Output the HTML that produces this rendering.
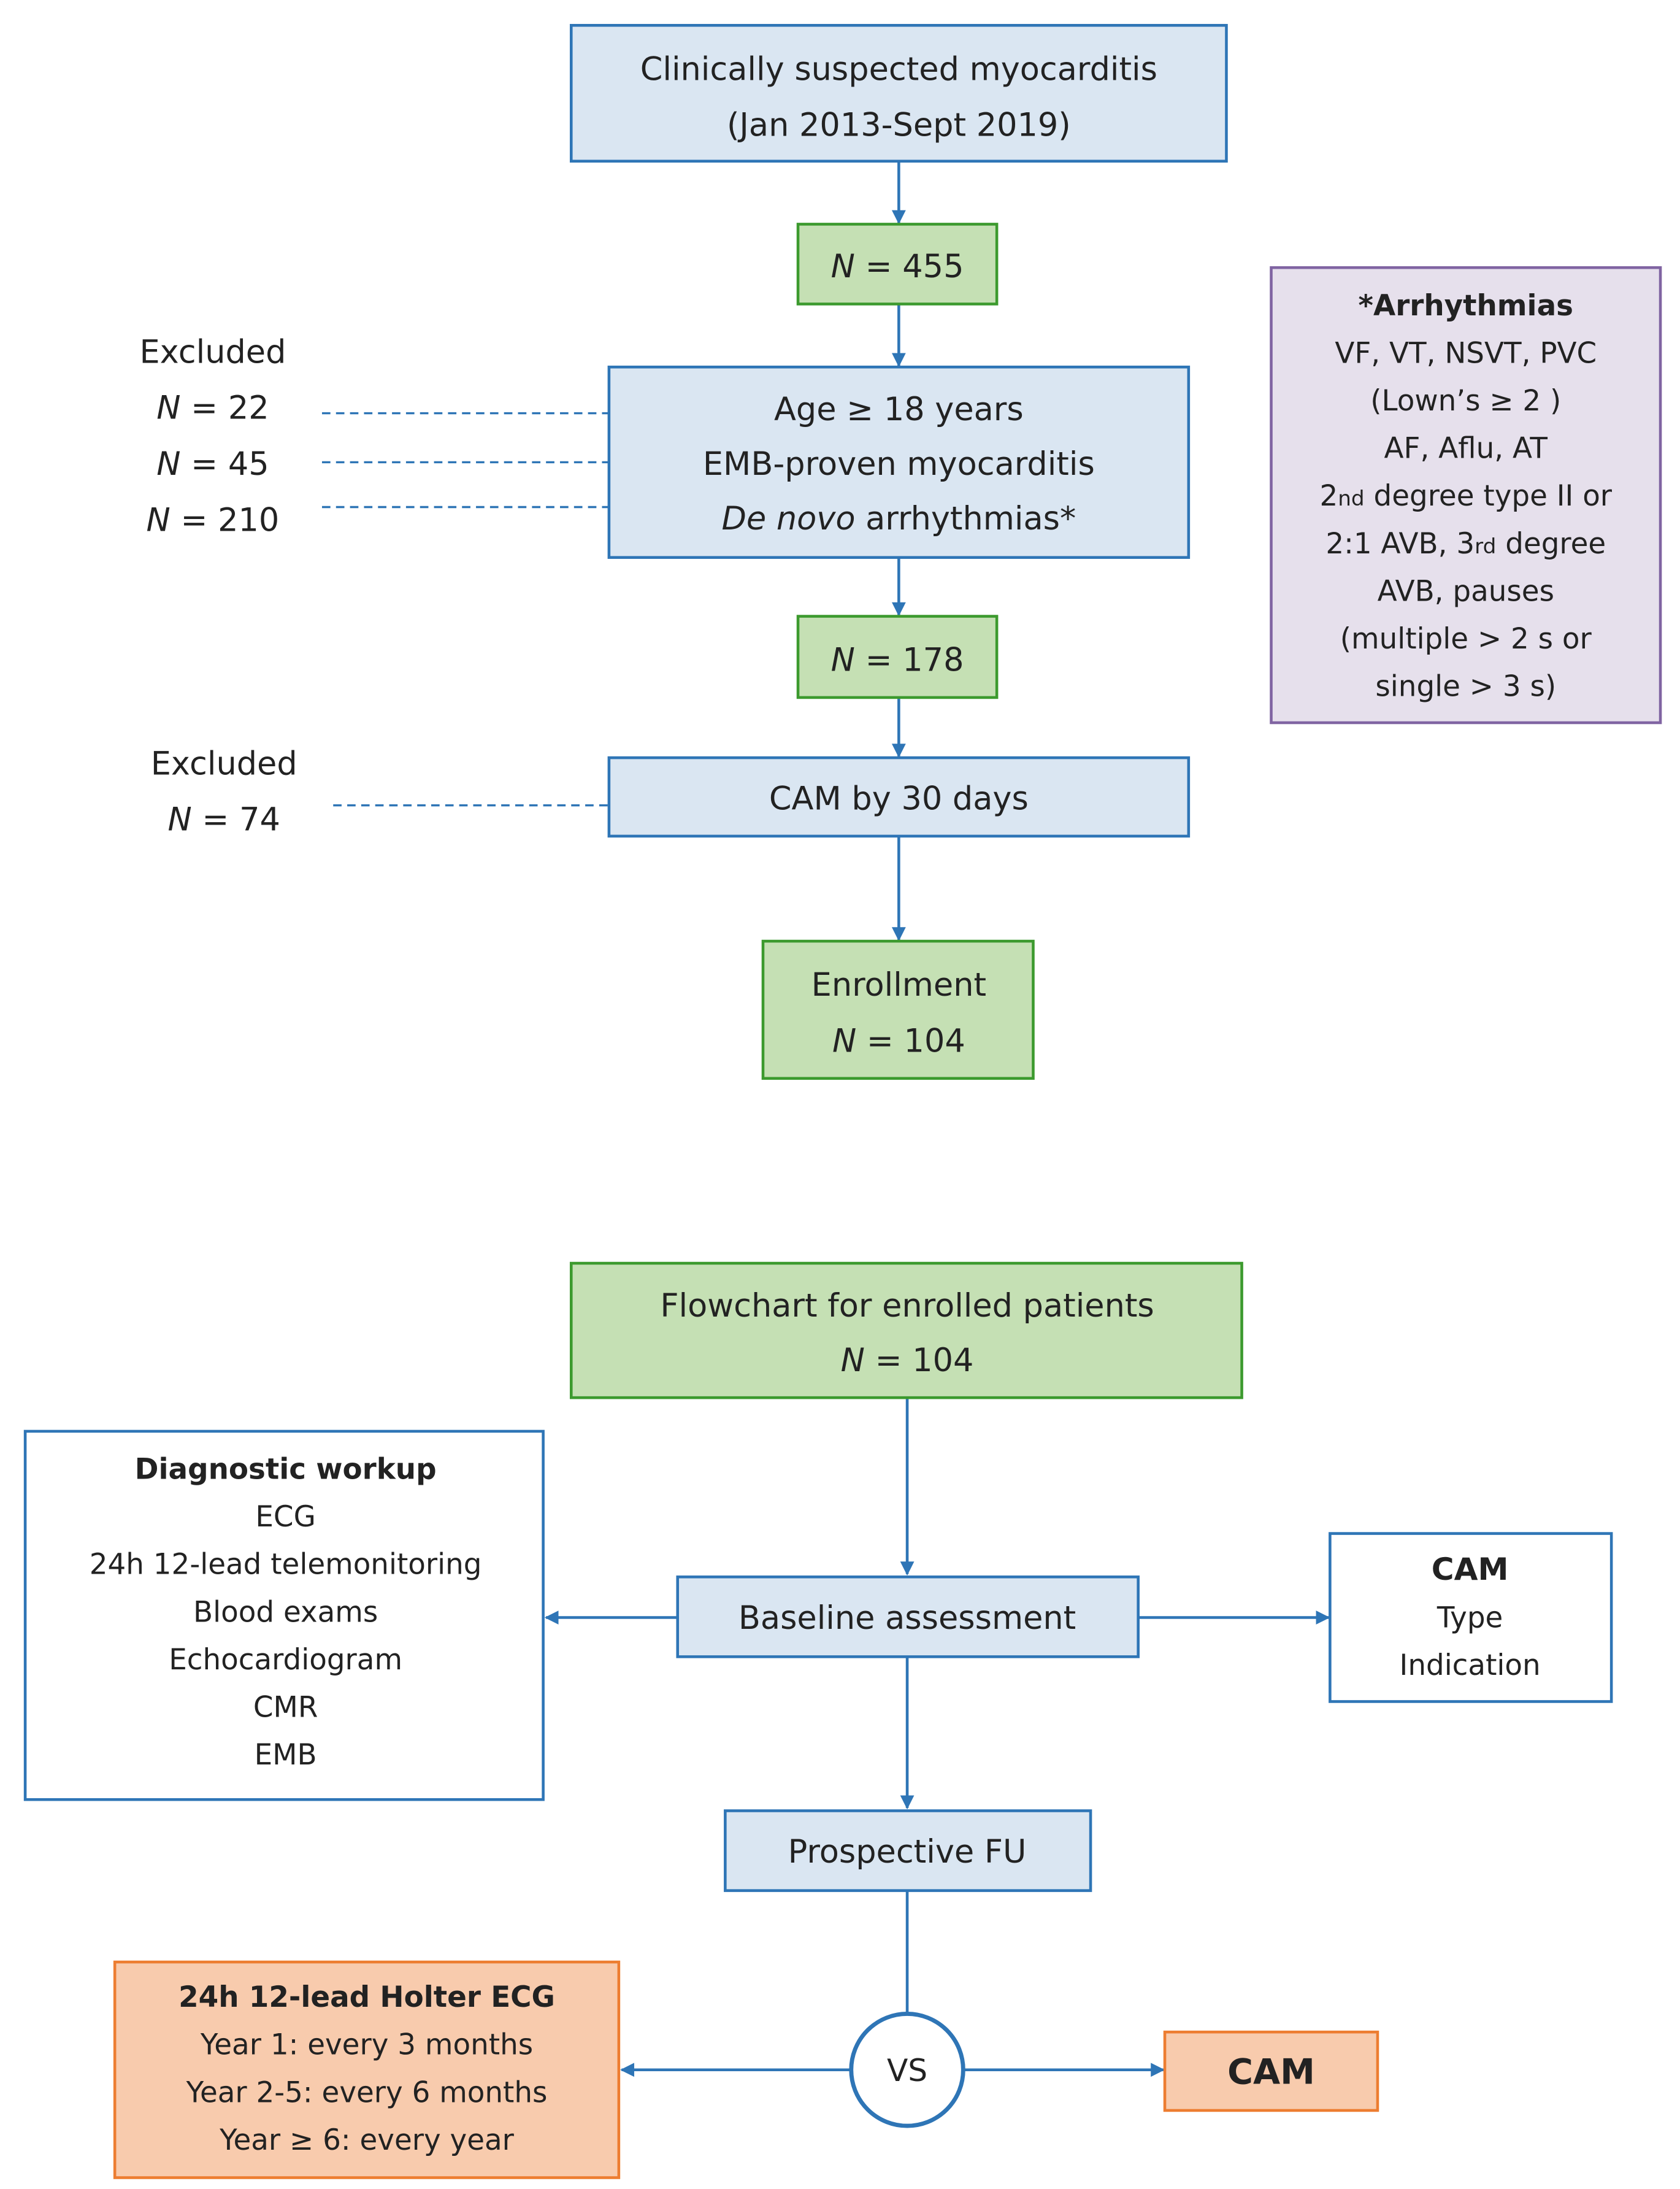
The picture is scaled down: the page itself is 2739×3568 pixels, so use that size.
<!DOCTYPE html>
<html><head><meta charset="utf-8"><style>
html,body{margin:0;padding:0;background:#fff;}
svg{display:block;}
text{font-family:"DejaVu Sans","Liberation Sans",sans-serif;fill:#222;}
</style></head><body>
<svg width="2739" height="3568" viewBox="0 0 1200 1563" xmlns="http://www.w3.org/2000/svg">
<defs>
<marker id="a" markerWidth="10" markerHeight="10" refX="9" refY="5" orient="auto" markerUnits="userSpaceOnUse">
<path d="M0,0 L10,5 L0,10 z" fill="#2E75B6"/></marker>
</defs>
<g stroke="#2E75B6" stroke-width="2" fill="none">
<line x1="642" y1="115" x2="642" y2="159" marker-end="url(#a)"/>
<line x1="642" y1="217" x2="642" y2="261" marker-end="url(#a)"/>
<line x1="642" y1="398" x2="642" y2="439" marker-end="url(#a)"/>
<line x1="642" y1="498" x2="642" y2="540" marker-end="url(#a)"/>
<line x1="642" y1="597" x2="642" y2="671" marker-end="url(#a)"/>
<line x1="648" y1="998" x2="648" y2="1124" marker-end="url(#a)"/>
<line x1="484" y1="1155" x2="390" y2="1155" marker-end="url(#a)"/>
<line x1="813" y1="1155" x2="949" y2="1155" marker-end="url(#a)"/>
<line x1="648" y1="1183" x2="648" y2="1291" marker-end="url(#a)"/>
<line x1="648" y1="1350" x2="648" y2="1438"/>
<line x1="608" y1="1478" x2="444" y2="1478" marker-end="url(#a)"/>
<line x1="689" y1="1478" x2="831" y2="1478" marker-end="url(#a)"/>
<g stroke-dasharray="6,4" stroke-width="1.5">
<line x1="230" y1="295" x2="435" y2="295"/>
<line x1="230" y1="330" x2="435" y2="330"/>
<line x1="230" y1="362" x2="435" y2="362"/>
<line x1="238" y1="575" x2="435" y2="575"/>
</g>
</g>
<g stroke-width="2">
<rect x="408" y="18" width="468" height="97" fill="#DAE6F2" stroke="#2E75B6"/>
<rect x="570" y="160" width="142" height="57" fill="#C5E0B4" stroke="#3C9A2E"/>
<rect x="435" y="262" width="414" height="136" fill="#DAE6F2" stroke="#2E75B6"/>
<rect x="570" y="440" width="142" height="58" fill="#C5E0B4" stroke="#3C9A2E"/>
<rect x="435" y="541" width="414" height="56" fill="#DAE6F2" stroke="#2E75B6"/>
<rect x="545" y="672" width="193" height="98" fill="#C5E0B4" stroke="#3C9A2E"/>
<rect x="908" y="191" width="278" height="325" fill="#E6E0EC" stroke="#8064A2"/>
<rect x="408" y="902" width="479" height="96" fill="#C5E0B4" stroke="#3C9A2E"/>
<rect x="484" y="1126" width="329" height="57" fill="#DAE6F2" stroke="#2E75B6"/>
<rect x="18" y="1022" width="370" height="263" fill="#fff" stroke="#2E75B6"/>
<rect x="950" y="1095" width="201" height="120" fill="#fff" stroke="#2E75B6"/>
<rect x="518" y="1293" width="261" height="57" fill="#DAE6F2" stroke="#2E75B6"/>
<circle cx="648" cy="1478" r="40" fill="#fff" stroke="#2E75B6" stroke-width="3"/>
<rect x="82" y="1401" width="360" height="154" fill="#F8CBAD" stroke="#ED7D31"/>
<rect x="832" y="1451" width="152" height="56" fill="#F8CBAD" stroke="#ED7D31"/>
</g>
<g font-size="23" text-anchor="middle">
<text x="642" y="57">Clinically suspected myocarditis</text>
<text x="642" y="97">(Jan 2013-Sept 2019)</text>
<text x="641" y="198"><tspan font-style="italic">N</tspan> = 455</text>
<text x="642" y="300">Age ≥ 18 years</text>
<text x="642" y="339">EMB-proven myocarditis</text>
<text x="642" y="378"><tspan font-style="italic">De novo</tspan> arrhythmias*</text>
<text x="641" y="479"><tspan font-style="italic">N</tspan> = 178</text>
<text x="642" y="578">CAM by 30 days</text>
<text x="642" y="711">Enrollment</text>
<text x="642" y="751"><tspan font-style="italic">N</tspan> = 104</text>
<text x="152" y="259">Excluded</text>
<text x="152" y="299"><tspan font-style="italic">N</tspan> = 22</text>
<text x="152" y="339"><tspan font-style="italic">N</tspan> = 45</text>
<text x="152" y="379"><tspan font-style="italic">N</tspan> = 210</text>
<text x="160" y="553">Excluded</text>
<text x="160" y="593"><tspan font-style="italic">N</tspan> = 74</text>
<text x="648" y="940">Flowchart for enrolled patients</text>
<text x="648" y="979"><tspan font-style="italic">N</tspan> = 104</text>
<text x="648" y="1163">Baseline assessment</text>
<text x="648" y="1330">Prospective FU</text>
<text x="648" y="1486" font-size="22">VS</text>
<text x="908" y="1488" font-weight="bold" font-size="25">CAM</text>
</g>
<g font-size="20.5" text-anchor="middle">
<text x="1047" y="225" font-weight="bold">*Arrhythmias</text>
<text x="1047" y="259">VF, VT, NSVT, PVC</text>
<text x="1047" y="293">(Lown’s ≥ 2 )</text>
<text x="1047" y="327">AF, Aflu, AT</text>
<text x="1047" y="361">2<tspan font-size="15">nd</tspan> degree type II or</text>
<text x="1047" y="395">2:1 AVB, 3<tspan font-size="15">rd</tspan> degree</text>
<text x="1047" y="429">AVB, pauses</text>
<text x="1047" y="463">(multiple &gt; 2 s or</text>
<text x="1047" y="497">single &gt; 3 s)</text>
<text x="204" y="1056" font-weight="bold">Diagnostic workup</text>
<text x="204" y="1090">ECG</text>
<text x="204" y="1124">24h 12-lead telemonitoring</text>
<text x="204" y="1158">Blood exams</text>
<text x="204" y="1192">Echocardiogram</text>
<text x="204" y="1226">CMR</text>
<text x="204" y="1260">EMB</text>
<text x="1050" y="1128" font-weight="bold" font-size="22">CAM</text>
<text x="1050" y="1162">Type</text>
<text x="1050" y="1196">Indication</text>
<text x="262" y="1433" font-weight="bold">24h 12-lead Holter ECG</text>
<text x="262" y="1467">Year 1: every 3 months</text>
<text x="262" y="1501">Year 2-5: every 6 months</text>
<text x="262" y="1535">Year ≥ 6: every year</text>
</g>
</svg>
</body></html>
